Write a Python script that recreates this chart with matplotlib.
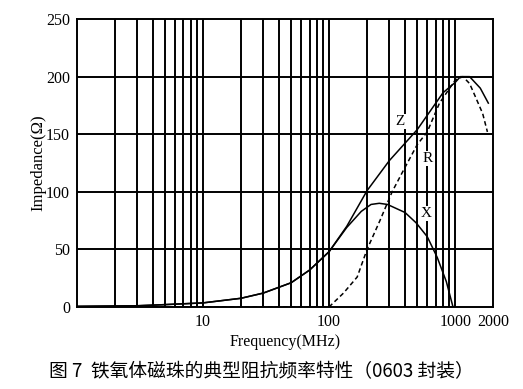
import matplotlib
matplotlib.use("Agg")
import matplotlib.pyplot as plt
from matplotlib.ticker import FixedLocator, NullFormatter

plt.rcParams['font.family'] = ['Liberation Serif', 'DejaVu Serif']

# 阻抗曲线数据 (MHz, Ω)
z_freq = [1, 3, 5, 10, 20, 30, 50, 70, 100, 138, 200, 300, 500, 800, 1000, 1100, 1300, 1580, 1830]
z_val = [0.5, 1, 2, 3.5, 7.5, 12, 21, 32, 48, 70, 101, 127, 154, 186, 195, 200, 200, 190, 177]

r_freq = [1, 100, 130, 167, 200, 253, 316, 390, 500, 600, 750, 1000, 1150, 1300, 1400, 1650, 1800]
r_val = [0, 0, 12, 26, 50, 75, 100, 119, 141, 152, 177, 197, 200, 194, 186, 168, 152]

x_freq = [1, 3, 5, 10, 20, 30, 50, 70, 100, 138, 180, 215, 250, 290, 400, 490, 600, 720, 850, 960]
x_val = [0.5, 1, 2, 3.5, 7.5, 12, 21, 32, 48, 69, 83, 89, 90, 89, 82, 73, 61, 43, 22, 0]

# 曲线标注
curve_labels = ["Z", "R", "X"]
label_pos = [(366, 161), (600, 129), (590, 81)]

grid_freq = [f * d for d in (1, 10, 100) for f in range(2, 10)] + [10, 100, 1000]
x_ticks = [10, 100, 1000, 2000]
y_ticks = [0, 50, 100, 150, 200, 250]

fig = plt.figure(figsize=(5.23, 3.89), dpi=100)
ax = fig.add_axes([0.147, 0.211, 0.796, 0.740])
ax.set_xscale('log')
ax.set_xlim(1, 2000)
ax.set_ylim(0, 250)

for f in grid_freq:
    ax.axvline(f, color='black', lw=1.4, zorder=1)
for v in y_ticks[1:-1]:
    ax.axhline(v, color='black', lw=1.4, zorder=1)

ax.plot(z_freq, z_val, color='black', lw=1.1, zorder=3)
ax.plot(r_freq, r_val, color='black', lw=1.1, ls=(0, (3, 2)), zorder=3)
ax.plot(x_freq, x_val, color='black', lw=1.1, zorder=3)

for t, (fx, fy) in zip(curve_labels, label_pos):
    ax.text(fx, fy, t, ha='center', va='center', fontsize=11,
            bbox=dict(facecolor='white', edgecolor='none', pad=0.5), zorder=4)

ax.xaxis.set_major_locator(FixedLocator(x_ticks))
ax.xaxis.set_minor_formatter(NullFormatter())
ax.set_xticklabels([str(t) for t in x_ticks])
ax.set_yticks(y_ticks)
ax.tick_params(length=0, labelsize=11.5, pad=5)
ax.tick_params(which='minor', length=0)
for s in ax.spines.values():
    s.set_color('black')
    s.set_linewidth(1.4)

ax.set_xlabel("Frequency(MHz)", fontsize=11.5, labelpad=3)
ax.set_ylabel("Impedance(Ω)", fontsize=12, labelpad=0)

fig.text(0.50, 0.044, "图 7  铁氧体磁珠的典型阻抗频率特性（0603 封装）",
         ha='center', va='center', fontsize=13.5,
         family=['Noto Sans CJK SC', 'DejaVu Sans'])

fig.savefig("out.png", dpi=100)
